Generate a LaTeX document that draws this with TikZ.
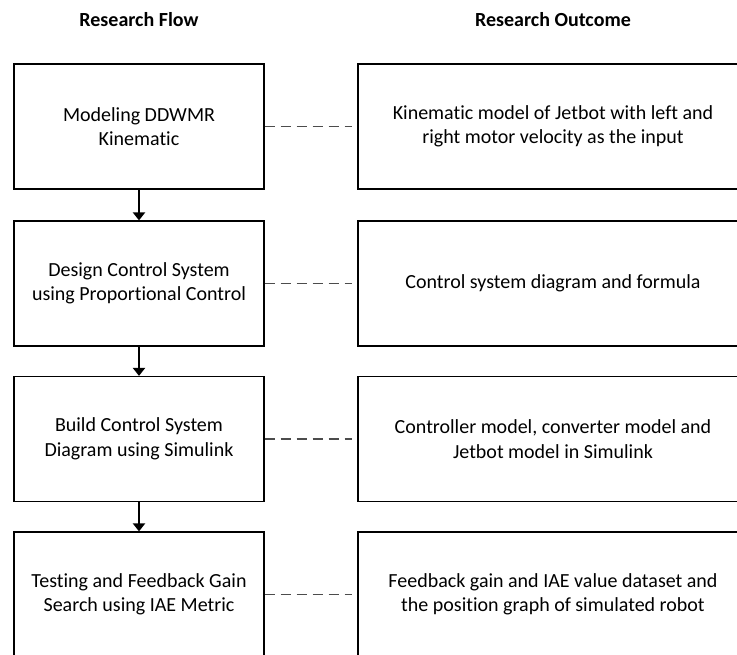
\documentclass[tikz,border=0pt]{standalone}
\usepackage{fontspec}
\setmainfont{Carlito}[Ligatures = NoCommon]
\usetikzlibrary{arrows.meta}

\begin{document}
\begin{tikzpicture}[x = 1pt, y = -1pt, line width = 1.2pt,
                        flow/.style = {rectangle, draw, minimum width = 250pt, minimum height = 125pt,
                                       align = center, font = \fontsize{20}{24.5}\selectfont},
                        outcome/.style = {flow, minimum width = 390pt},
                        heading/.style = {font = \fontsize{20}{24}\selectfont\bfseries},
                        link/.style = {draw = black!70, dash pattern = on 10pt off 6pt, shorten > = 5pt},
                        flowarrow/.style = {-{Triangle[width = 12pt, length = 8pt]}, line width = 2.6pt}]
      \useasboundingbox (0, 0) rectangle (737, 654);
      \clip (0, 0) rectangle (737, 654);
      \node [heading] (HF) at (139, 20) {Research Flow};
      \node [heading] (HO) at (553, 20) {Research Outcome};
      \node [flow] (F1) at (139, 126.5) {Modeling DDWMR\\Kinematic};
      \node [flow] (F2) at (139, 283.5) {Design Control System\\using Proportional Control};
      \node [flow] (F3) at (139, 439) {Build Control System\\Diagram using Simulink};
      \node [flow] (F4) at (139, 594.5) {Testing and Feedback Gain\\Search using IAE Metric};
      \node [outcome] (O1) at (553, 126.5) {Kinematic model of Jetbot with left and\\right motor velocity as the input};
      \node [outcome] (O2) at (553, 283.5) {Control system diagram and formula};
      \node [outcome] (O3) at (553, 439) {Controller model, converter model and\\Jetbot model in Simulink};
      \node [outcome] (O4) at (553, 594.5) {Feedback gain and IAE value dataset and\\the position graph of simulated robot};
      \draw [flowarrow] (F1) -- (F2); \draw [flowarrow] (F2) -- (F3); \draw [flowarrow] (F3) -- (F4);
      \draw [link] (F1) -- (O1); \draw [link] (F2) -- (O2);
      \draw [link] (F3) -- (O3); \draw [link] (F4) -- (O4);
    \end{tikzpicture}
\end{document}
